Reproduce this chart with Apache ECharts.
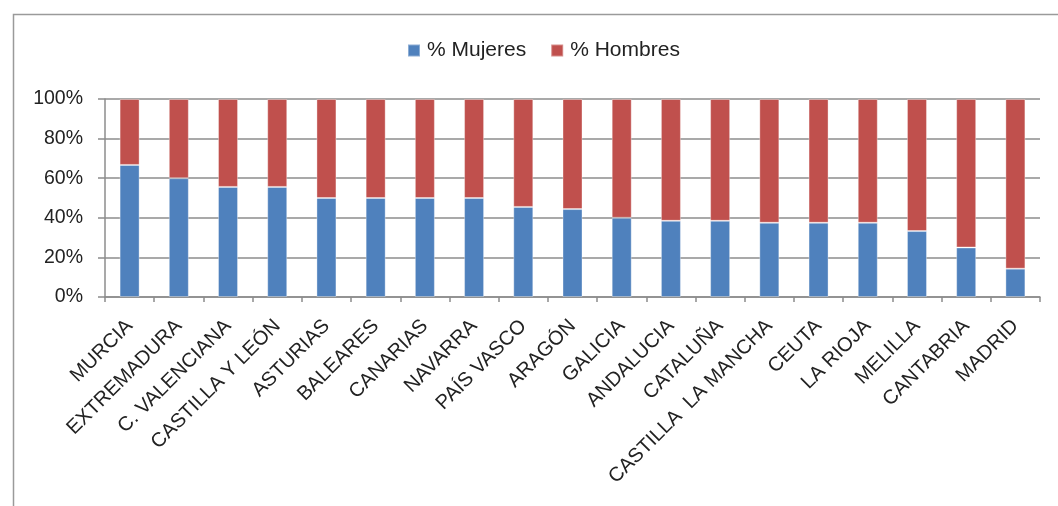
<!DOCTYPE html>
<html>
<head>
<meta charset="utf-8">
<script src="https://cdn.jsdelivr.net/npm/echarts@6/dist/echarts.min.js"></script>
<style>
  html, body { margin: 0; padding: 0; background: #fff; }
  #chart { width: 1058px; height: 506px; }
</style>
</head>
<body>
<div id="chart"></div>
<script>
// Comunidades autónomas, ordenadas por porcentaje de mujeres
const regiones = ['MURCIA', 'EXTREMADURA', 'C. VALENCIANA', 'CASTILLA Y LEÓN', 'ASTURIAS',
  'BALEARES', 'CANARIAS', 'NAVARRA', 'PAÍS VASCO', 'ARAGÓN', 'GALICIA', 'ANDALUCIA',
  'CATALUÑA', 'CASTILLA  LA MANCHA', 'CEUTA', 'LA RIOJA', 'MELILLA', 'CANTABRIA', 'MADRID'];

const mujeres = [66.7, 60.0, 55.6, 55.6, 50.0, 50.0, 50.0, 50.0, 45.5, 44.4, 40.0, 38.5,
  38.5, 37.5, 37.5, 37.5, 33.3, 25.0, 14.3];
const hombres = [33.3, 40.0, 44.4, 44.4, 50.0, 50.0, 50.0, 50.0, 54.5, 55.6, 60.0, 61.5,
  61.5, 62.5, 62.5, 62.5, 66.7, 75.0, 85.7];

const nombresSeries = ['% Mujeres', '% Hombres'];
const colores = ['#4F81BD', '#C0504D'];

const FONT = '"Liberation Sans", Arial, Helvetica, sans-serif';
const GRIS = '#8c8c8c';

const chart = echarts.init(document.getElementById('chart'), null, { renderer: 'canvas' });

chart.setOption({
  animation: false,
  textStyle: { fontFamily: FONT },
  graphic: [{
    type: 'rect',
    left: 11, top: 12,
    shape: { width: 1060, height: 520 },
    style: { fill: 'none', stroke: '#9a9a9a', lineWidth: 1.5 },
    silent: true, z: -1
  }],
  legend: {
    top: 35,
    left: 402,
    itemWidth: 12,
    itemHeight: 12,
    itemGap: 24,
    icon: 'rect',
    textStyle: { fontSize: 21, color: '#222', fontFamily: FONT, padding: [0, 0, 0, 2] },
    data: nombresSeries
  },
  grid: { left: 105, right: 18, top: 99, bottom: 209, containLabel: false },
  xAxis: {
    type: 'category',
    data: regiones,
    boundaryGap: true,
    axisLine: { show: true, lineStyle: { color: GRIS, width: 1.5 } },
    axisTick: { show: true, length: 5, alignWithLabel: false, lineStyle: { color: GRIS, width: 1.5 } },
    axisLabel: {
      interval: 0,
      rotate: 45,
      margin: 26,
      fontSize: 20,
      color: '#222',
      fontFamily: FONT
    }
  },
  yAxis: {
    type: 'value',
    min: 0, max: 100, interval: 20,
    axisLine: { show: true, lineStyle: { color: GRIS, width: 1.5 } },
    axisTick: { show: true, length: 7, lineStyle: { color: GRIS, width: 1.5 } },
    axisLabel: {
      formatter: '{value}%',
      margin: 22,
      fontSize: 19.5,
      color: '#222',
      fontFamily: FONT
    },
    splitLine: { show: true, lineStyle: { color: GRIS, width: 1.5 } }
  },
  series: [
    {
      name: nombresSeries[0],
      type: 'bar',
      stack: 'total',
      data: mujeres,
      barWidth: 20,
      itemStyle: { color: colores[0], borderColor: 'rgba(255,255,255,0.35)', borderWidth: 1 }
    },
    {
      name: nombresSeries[1],
      type: 'bar',
      stack: 'total',
      data: hombres,
      barWidth: 20,
      itemStyle: { color: colores[1], borderColor: 'rgba(255,255,255,0.35)', borderWidth: 1 }
    }
  ]
});
</script>
</body>
</html>
